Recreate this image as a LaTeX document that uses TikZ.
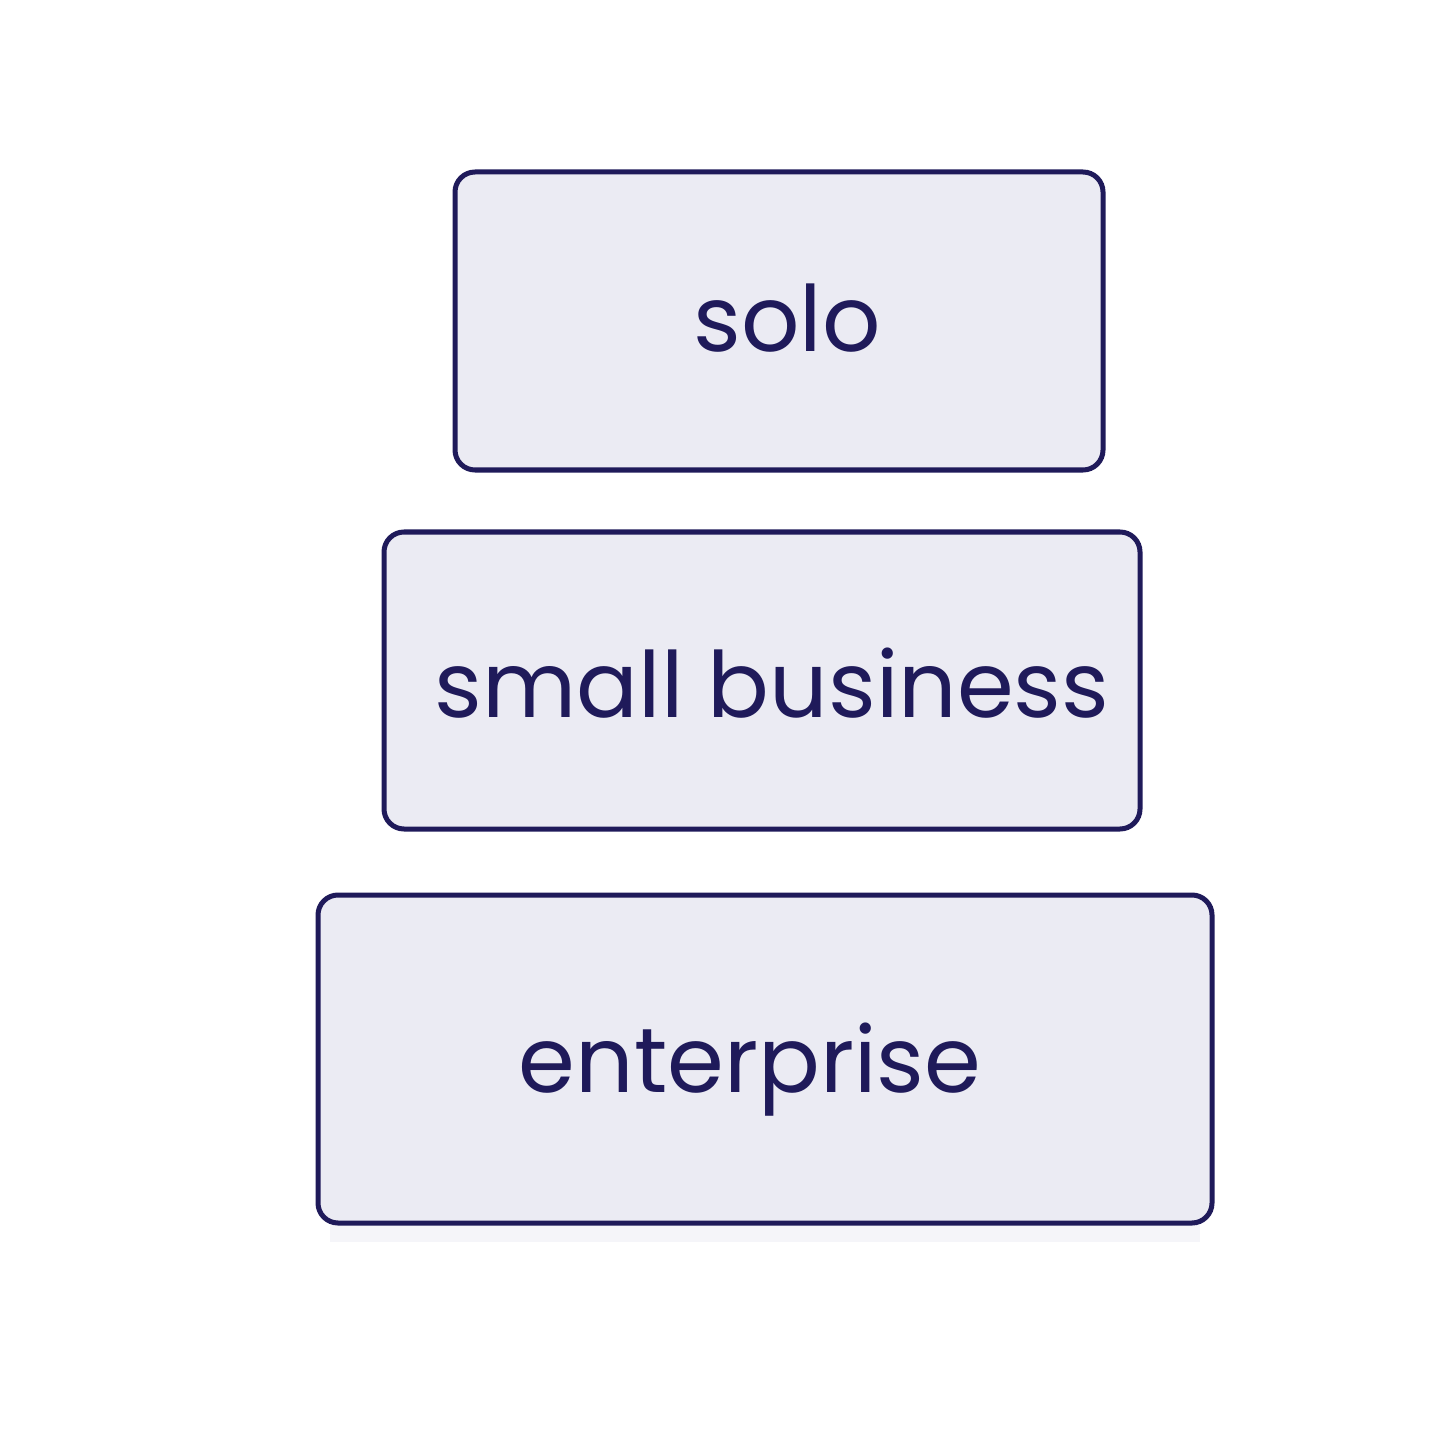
\documentclass[tikz,border=0pt]{standalone}
\usepackage{fontspec}
\setmainfont{Poppins}
\definecolor{ink}{HTML}{1F1A5A}
\definecolor{boxfill}{HTML}{EBEBF3}
\begin{document}
\begin{tikzpicture}[x=0.01cm,y=-0.01cm,
  tier/.style={draw=ink,fill=boxfill,line width=0.05cm,rounded corners=0.2cm},
  lbl/.style={text=ink,font=\fontsize{26}{30}\selectfont}]
\useasboundingbox (0,0) rectangle (1440,1440);
\fill[boxfill!50] (330,1225) rectangle (1200,1242);
\draw[tier] (455,172) rectangle (1103,470);
\draw[tier] (384,532) rectangle (1140,829);
\draw[tier] (318,895) rectangle (1212,1223);
\node[lbl] (solo) at (787,318) {solo};
\node[lbl] (small) at (772,683) {small business};
\node[lbl] (ent) at (750,1070) {enterprise};
\end{tikzpicture}
\end{document}
